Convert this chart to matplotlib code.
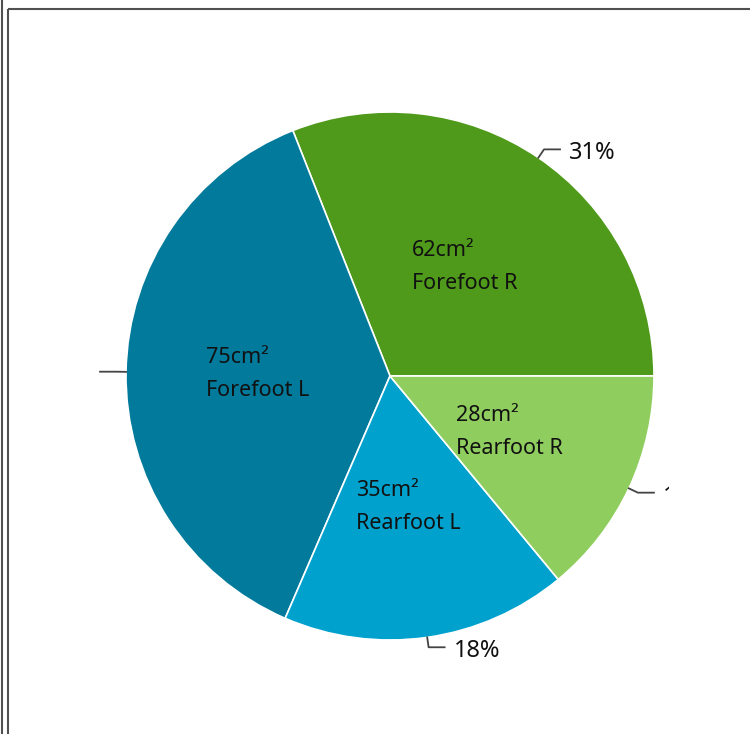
import numpy as np
from matplotlib import pyplot as plt
from matplotlib.transforms import Bbox, TransformedBbox

plt.rcParams['font.family'] = ['Noto Sans', 'DejaVu Sans']

# foot contact areas, cm2
parts = ['Forefoot R', 'Forefoot L', 'Rearfoot L', 'Rearfoot R']
areas = [62, 75, 35, 28]
colors = ['#4f9a1a', '#017a9c', '#00a1cd', '#8fce5e']

W, H = 750, 734
cx, cy, r = 390, H - 376, 264

fig = plt.figure(figsize=(W / 100, H / 100), dpi=100)
ax = fig.add_axes([0, 0, 1, 1])

wedges, _ = ax.pie(areas, colors=colors, startangle=0, counterclock=True,
                   center=(cx, cy), radius=r,
                   wedgeprops=dict(edgecolor='white', linewidth=1.2))
ax.set_xlim(0, W)
ax.set_ylim(0, H)
ax.set_aspect('equal')
ax.axis('off')

# outside labels get cut off at the plot area edges
clip = TransformedBbox(Bbox([[97, 0], [669, H]]), ax.transData)

total = sum(areas)
for w, name, a in zip(wedges, parts, areas):
    mid = np.deg2rad((w.theta1 + w.theta2) / 2)
    c, s = np.cos(mid), np.sin(mid)
    # area label inside the slice
    ax.text(cx + 0.5 * r * c, cy + 0.5 * r * s, f'{a}cm\u00b2\n{name}',
            ha='center', va='center', multialignment='left',
            fontsize=15.5, color='#111111', linespacing=1.75)
    # percentage with leader line
    x0, y0 = cx + r * c, cy + r * s
    x1, y1 = cx + (r + 10) * c, cy + (r + 10) * s
    side = 1 if c >= 0 else -1
    x2 = x1 + side * 16
    ax.plot([x0, x1, x2], [y0, y1, y1], color='#444444', lw=1.3,
            solid_joinstyle='round')
    pct = int(np.floor(a / total * 100 + 0.5))
    t = ax.text(x2 + side * 9, y1 - 4, f'{pct}%',
                ha='left' if side > 0 else 'right', va='center',
                fontsize=17, color='#111111')
    t.set_clip_box(clip)
    t.set_clip_on(True)

# window frame lines
frame = dict(color='#505050', lw=1.5, clip_on=False, solid_capstyle='butt')
ax.plot([1.5, 1.5], [0, H], **frame)
ax.plot([7.5, W], [H - 9, H - 9], **frame)
ax.plot([7.5, 7.5], [0, H - 9], **frame)

fig.savefig('out.png', dpi=100, facecolor='white')
